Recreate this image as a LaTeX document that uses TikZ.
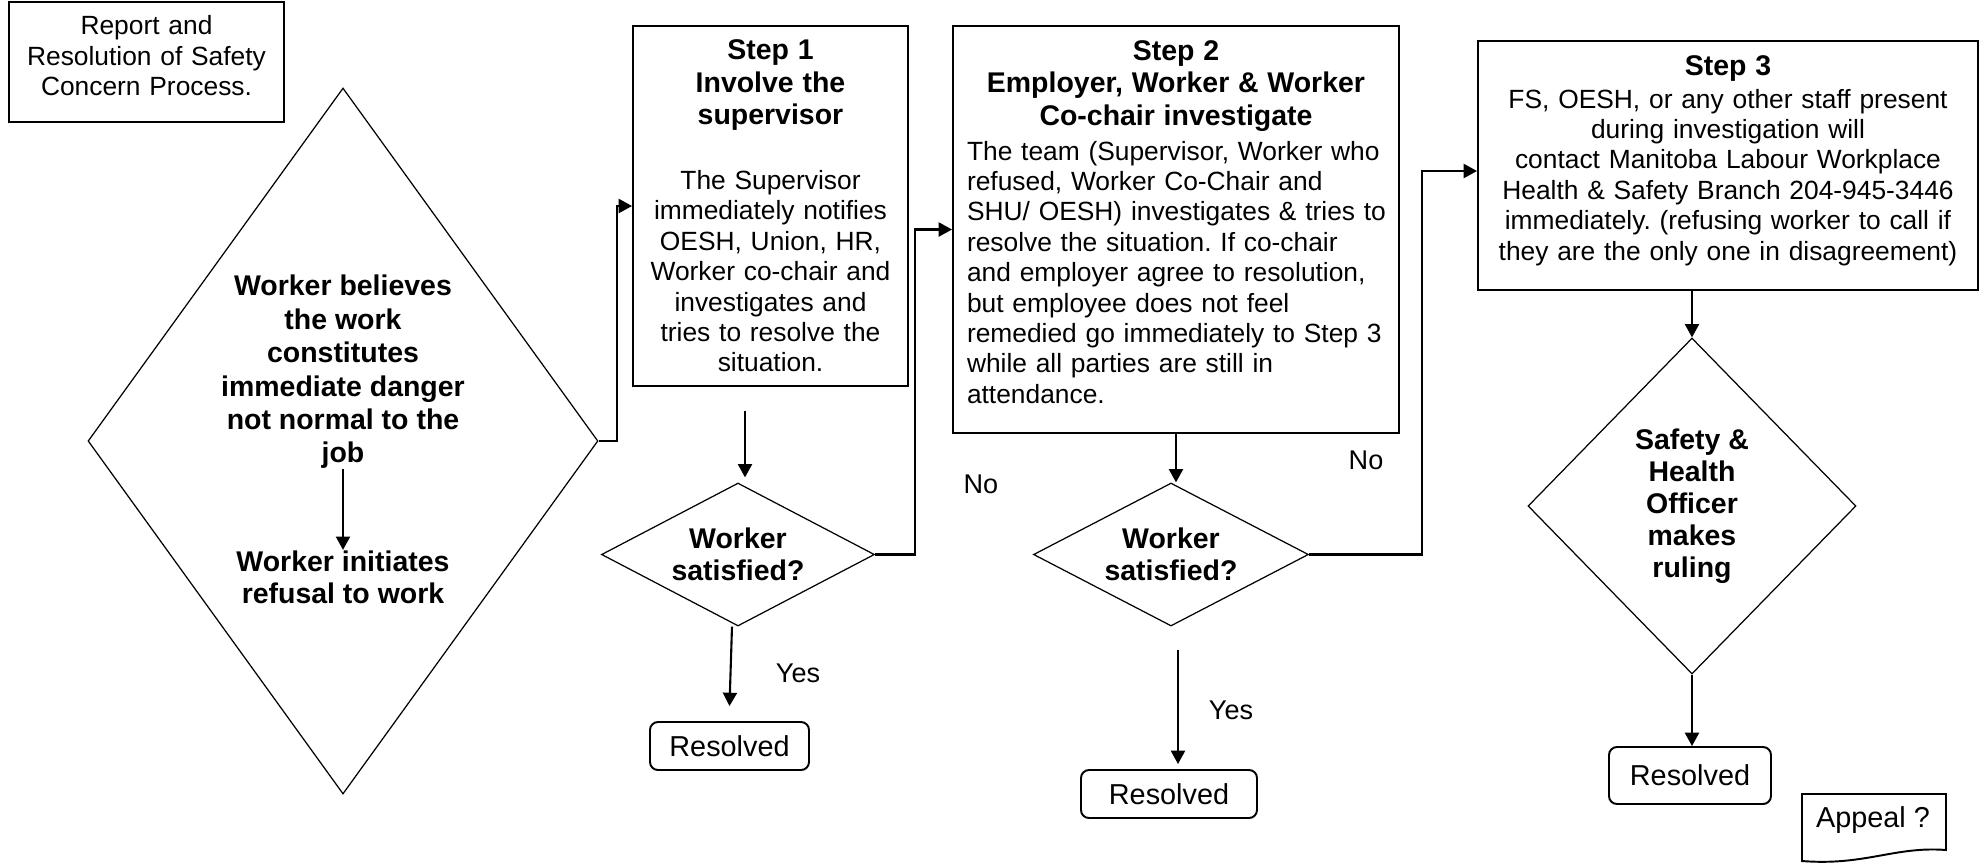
\documentclass[tikz,border=0pt]{standalone}
\usepackage{fontspec}
\setmainfont{Liberation Sans}
\usetikzlibrary{shapes.geometric,arrows.meta,positioning,calc}
\frenchspacing

\begin{document}
\begin{tikzpicture}[
    x=0.1mm, y=-0.1mm,
    every node/.style={font=\fontsize{7.5}{8.65}\selectfont},
    stepbox/.style={rectangle, draw, line width=0.55pt, align=center},
    decision/.style={diamond, draw, line width=0.35pt, inner sep=0pt},
    dtext/.style={font=\fontsize{8.1}{9.1}\selectfont\bfseries, align=center, inner sep=0pt},
    resbox/.style={rectangle, rounded corners=0.8mm, draw, line width=0.55pt, minimum height=4.8mm, font=\fontsize{8.2}{9.4}\selectfont},
    answer/.style={font=\fontsize{7.7}{9}\selectfont},
    arrow/.style={-{Triangle[length=3.8pt,width=4pt]}, line width=0.6pt}
]
\useasboundingbox (0,0) rectangle (1980,864);

% Title
\node[stepbox, text width=26mm, inner xsep=0.75mm, minimum height=12mm] (title) at (146.5,62) {Report and\\Resolution of Safety\\Concern Process.\par\nointerlineskip\vspace{3.6pt}\hbox{}};

% Refusal diamond
\node[decision, minimum width=51mm, minimum height=70.6mm] (refuse) at (343,441) {};
\node[dtext, font=\fontsize{8.1}{9.5}\selectfont\bfseries] (belief) at (343,372) {Worker believes\\the work\\constitutes\\immediate danger\\not normal to the\\job};
\node[dtext] (initiate) at (343,577) {Worker initiates\\refusal to work};
\draw[arrow] (belief) -- (initiate);

% Step 1
\node[stepbox, text width=26mm, inner xsep=0.75mm, minimum height=36mm] (step1) at (770.5,206) {{\fontsize{8.1}{9.25}\selectfont\bfseries Step 1\\Involve the\\supervisor\par}\vspace{9.8pt}The Supervisor\\immediately notifies\\OESH, Union, HR,\\Worker co-chair and\\investigates and\\tries to resolve the\\situation.};

% Step 2
\node[stepbox, text width=44mm, inner xsep=0.3mm, minimum height=40.7mm] (step2) at (1176,229.5) {{\fontsize{8.1}{9.25}\selectfont\bfseries Step 2\\Employer, Worker \& Worker\\Co-chair investigate\par}\vspace{1.3pt}{\raggedright\leftskip=1.1mm The team (Supervisor, Worker who\\refused, Worker Co-Chair and\\SHU/ OESH) investigates \& tries to\\resolve the situation. If co-chair\\and employer agree to resolution,\\but employee does not feel\\remedied go immediately to Step 3\\while all parties are still in\\attendance.\par}\nointerlineskip\vspace{4.3pt}\hbox{}};

% Step 3
\node[stepbox, text width=48mm, inner xsep=1mm, minimum height=24.9mm] (step3) at (1728,165.5) {{\fontsize{8.1}{9.25}\selectfont\bfseries Step 3\par}\vspace{0.7pt}FS, OESH, or any other staff present\\during investigation will\\contact Manitoba Labour Workplace\\Health \& Safety Branch 204-945-3446\\immediately. (refusing worker to call if\\they are the only one in disagreement)\par\nointerlineskip\vspace{2.9pt}\hbox{}};

% Decisions
\node[decision, minimum width=27.3mm, minimum height=14.3mm] (check1) at (738,554.5) {};
\node[dtext] (check1txt) at (check1) {Worker\\satisfied?};
\node[decision, minimum width=27.5mm, minimum height=14.3mm] (check2) at (1171,554.5) {};
\node[dtext] (check2txt) at (check2) {Worker\\satisfied?};
\node[decision, minimum width=32.8mm, minimum height=33.6mm] (ruling) at (1692,506) {};
\node[dtext] (rulingtxt) at (ruling) {Safety \&\\Health\\Officer\\makes\\ruling};

% Outcomes
\node[resbox, minimum width=15.9mm] (resolved1) at (729.5,746) {Resolved};
\node[resbox, minimum width=17.6mm] (resolved2) at (1169,794) {Resolved};
\node[resbox, minimum width=16.2mm, minimum height=5.7mm] (resolved3) at (1690,775.5) {Resolved};

% Appeal document
\node[font=\fontsize{8.2}{9.4}\selectfont] (appeal) at (1873,820) {Appeal ?};
\draw[line width=0.55pt] (1802,861) -- (1802,794) -- (1946,794) -- (1946,850) .. controls (1895,846) and (1865,866) .. (1802,861) -- cycle;

% Answers
\node[answer] (yes1) at (798,673) {Yes};
\node[answer] (yes2) at (1231,710) {Yes};
\node[answer] (no1) at (981,484) {No};
\node[answer] (no2) at (1366,460) {No};

% Connectors
\draw[arrow] (refuse.east) -- ++(18,0) |- (step1.west);
\draw[arrow] ($(step1.south)+(-25.5,24)$) -- ($(check1.north)+(7,-5)$);
\draw[arrow] (check1.east) -- ++(40,0) |- (step2.west);
\draw[arrow] ($(check1.south)+(-6,0)$) -- ($(resolved1.north)+(0,-15)$);
\draw[arrow] (step2.south) -- (step2.south |- check2.north);
\draw[arrow] (check2.east) -- ++(113,0) |- ($(step3.west)+(0,5.5)$);
\draw[arrow] ($(check2.south)+(7,23)$) -- ($(resolved2.north)+(9,-5)$);
\draw[arrow] (step3.south -| ruling.north) -- (ruling.north);
\draw[arrow] (ruling.south) -- (ruling.south |- resolved3.north);

\end{tikzpicture}
\end{document}
